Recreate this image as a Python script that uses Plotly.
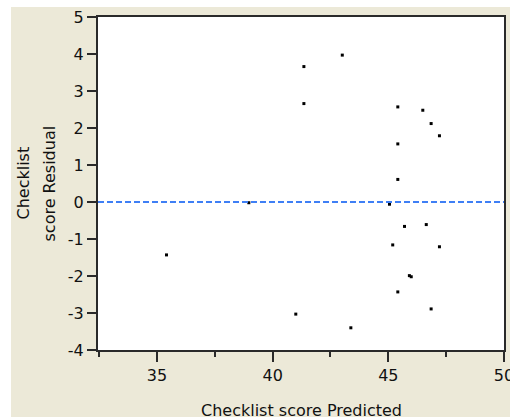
import plotly.graph_objects as go

predicted = [41.35, 43.01, 41.35, 45.41, 46.49, 46.85, 47.21, 45.41, 45.41, 38.97,
             45.05, 45.70, 46.64, 45.19, 47.21, 35.41, 45.91, 45.99, 45.41, 41.00,
             43.38, 46.85]
residual = [3.66, 3.97, 2.66, 2.57, 2.48, 2.12, 1.79, 1.57, 0.61, -0.02,
            -0.06, -0.66, -0.61, -1.16, -1.21, -1.43, -1.99, -2.02, -2.43, -3.03,
            -3.40, -2.89]

x_ticks = [35, 40, 45, 50]
y_ticks = [-4, -3, -2, -1, 0, 1, 2, 3, 4, 5]

W, H = 510, 419
ML, MR, MT, MB = 98, 6, 17, 69
PW, PH = W - ML - MR, H - MT - MB

def px_x(p):
    return (p - ML) / PW

def px_y(p):
    return (H - MB - p) / PH

FONT = "DejaVu Sans"
FS = 16
BG = "#ECE9D8"
AX = "#2a2a2a"
TXT = "#111"

fig = go.Figure()
fig.add_trace(go.Scatter(
    x=predicted, y=residual, mode="markers",
    marker=dict(symbol="square", size=3, color="black", line=dict(width=0)),
    hoverinfo="x+y", showlegend=False,
))

fig.add_hline(y=0, line=dict(color="#3F7FF5", width=2, dash="6px,3px"))

# white strips at the outer edge of the page
for x0, x1, y0, y1 in [(0, W, 0, 7), (0, 11, 0, H), (0, W, 417, H)]:
    fig.add_shape(type="rect", xref="paper", yref="paper",
                  x0=px_x(x0), x1=px_x(x1), y0=px_y(y1), y1=px_y(y0),
                  fillcolor="white", line=dict(width=0), layer="above")

for txt, cx in [("Checklist", 23), ("score Residual", 49)]:
    fig.add_annotation(text=txt, textangle=-90,
                       xref="paper", yref="paper", x=px_x(cx), y=0.5,
                       xanchor="center", yanchor="middle", showarrow=False,
                       font=dict(family=FONT, size=FS, color=TXT))

fig.add_annotation(text="Checklist score Predicted", xref="paper", yref="paper",
                   x=0.5, y=px_y(410), xanchor="center", yanchor="middle",
                   showarrow=False, font=dict(family=FONT, size=FS, color=TXT))

fig.update_layout(
    width=W, height=H, autosize=False,
    margin=dict(l=ML, r=MR, t=MT, b=MB, pad=0),
    paper_bgcolor=BG, plot_bgcolor="white",
    font=dict(family=FONT, size=FS, color=TXT),
    xaxis=dict(
        range=[32.45, 50.0001], tickvals=x_ticks, ticktext=[str(v) for v in x_ticks],
        showgrid=False, zeroline=False, showline=True, linewidth=2, linecolor=AX,
        mirror=True, ticks="outside", ticklen=10, tickwidth=2, tickcolor=AX,
        minor=dict(dtick=2.5, tick0=0, ticks="outside", ticklen=5, tickwidth=2,
                   tickcolor=AX, showgrid=False),
        automargin=False, ticklabeloverflow="allow",
        tickfont=dict(family=FONT, size=FS, color=TXT),
    ),
    yaxis=dict(
        range=[-4, 5], tickvals=y_ticks, ticktext=[str(v) for v in y_ticks],
        showgrid=False, zeroline=False, showline=True, linewidth=2, linecolor=AX,
        mirror=True, ticks="outside", ticklen=9, tickwidth=2, tickcolor=AX,
        automargin=False,
        tickfont=dict(family=FONT, size=FS, color=TXT),
    ),
)

fig.write_html("out.html", config={"displayModeBar": False})
